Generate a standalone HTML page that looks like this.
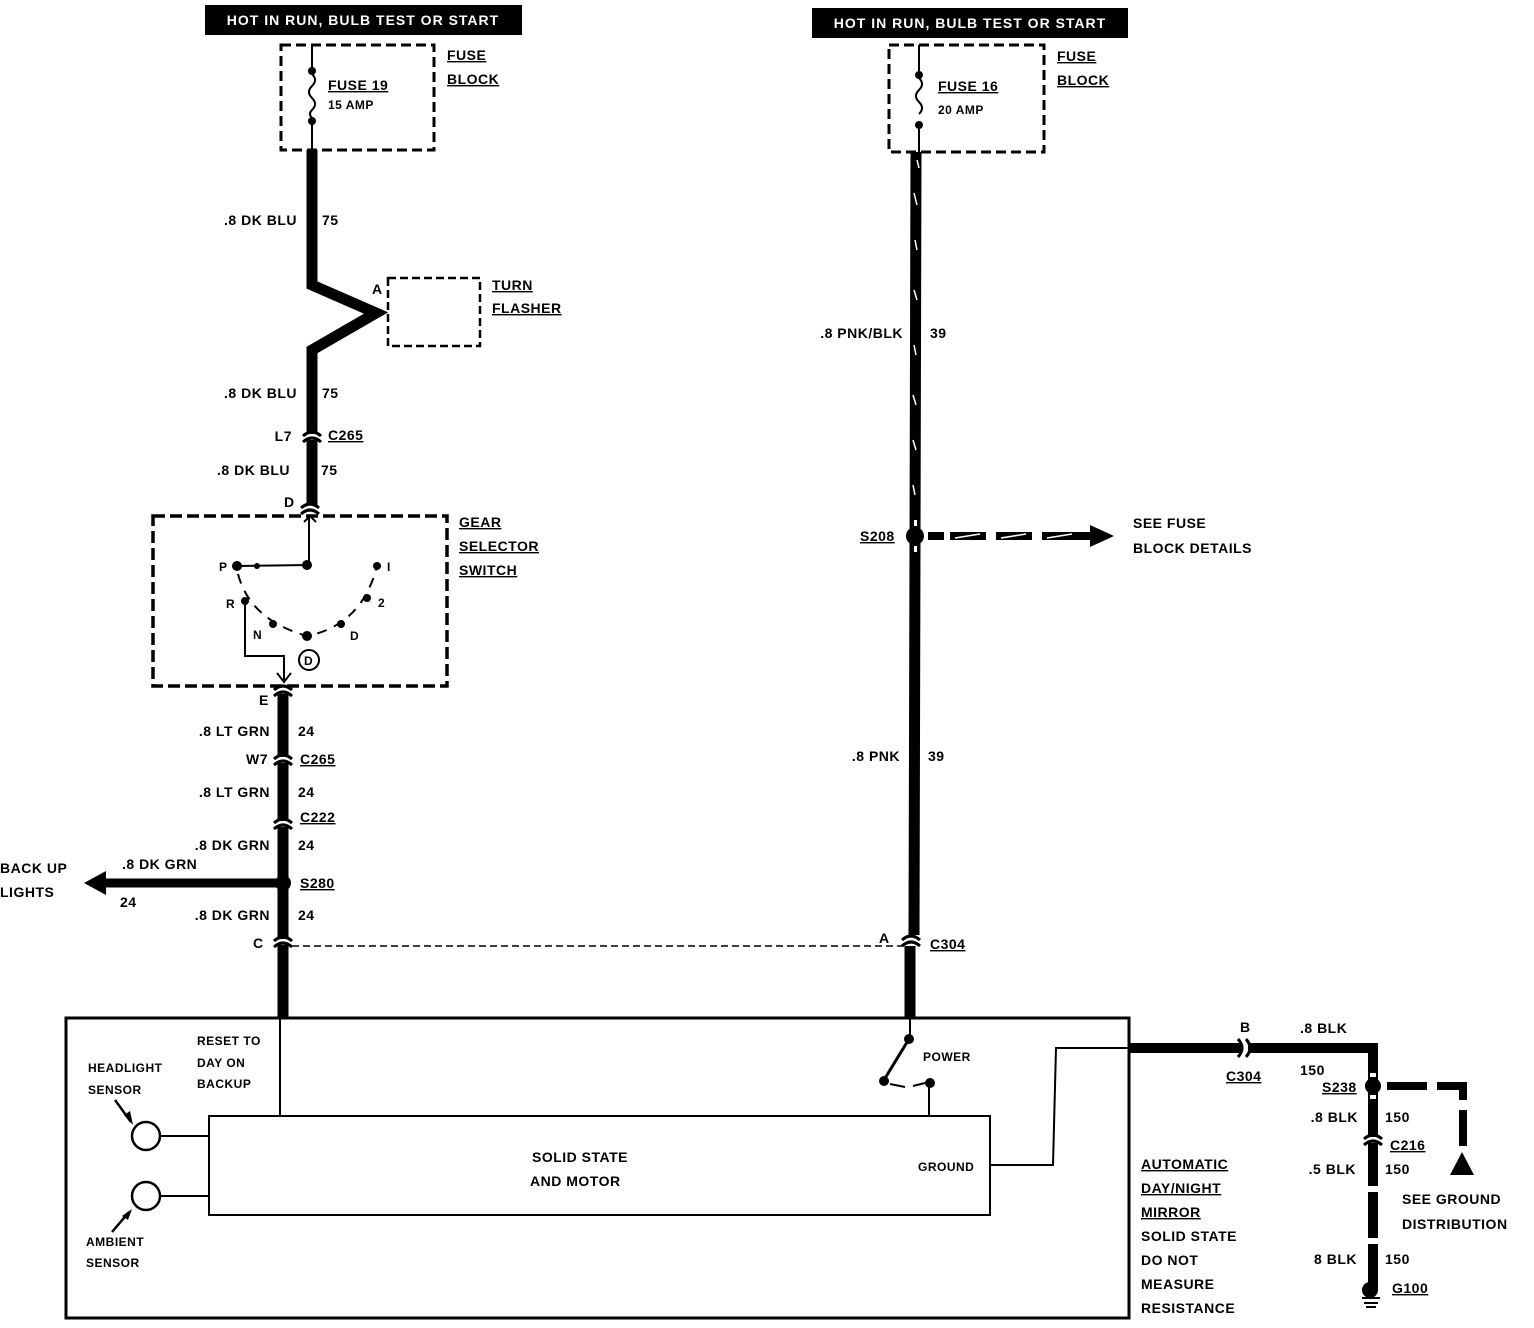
<!DOCTYPE html>
<html><head><meta charset="utf-8"><style>
html,body{margin:0;padding:0;background:#fff}
svg{display:block}
text{font-family:"Liberation Sans",sans-serif;font-weight:bold;font-size:14px;fill:#000;letter-spacing:0.5px}
.s{font-size:12px}
.u{text-decoration:underline}
</style></head><body>
<svg width="1534" height="1328" viewBox="0 0 1534 1328" xmlns="http://www.w3.org/2000/svg">
<defs>
<g id="cv"><rect x="-8" y="-3" width="16" height="6" fill="#fff"/><path d="M-9,-1 Q0,-9 9,-1 M-9,5 Q0,-3 9,5" stroke="#000" stroke-width="3" fill="none"/></g>
</defs>
<!-- header boxes -->
<rect x="205" y="5" width="317" height="30" fill="#000"/>
<text x="363" y="25" text-anchor="middle" style="fill:#fff;letter-spacing:1px" font-size="13">HOT IN RUN, BULB TEST OR START</text>
<rect x="812" y="8" width="316" height="30" fill="#000"/>
<text x="970" y="28" text-anchor="middle" style="fill:#fff;letter-spacing:1px" font-size="13">HOT IN RUN, BULB TEST OR START</text>

<!-- fuse 19 -->
<rect x="281" y="45" width="153" height="105" fill="none" stroke="#000" stroke-width="3" stroke-dasharray="10,5"/>
<line x1="312" y1="45" x2="312" y2="68" stroke="#000" stroke-width="2"/>
<circle cx="312" cy="71" r="4"/>
<path d="M312,74 q6,6 0,12 q-6,6 0,12 q6,6 0,12 q-4,4 0,8" stroke="#000" stroke-width="2" fill="none"/>
<circle cx="312" cy="121" r="4"/>
<line x1="312" y1="121" x2="312" y2="150" stroke="#000" stroke-width="2"/>
<text x="328" y="90" class="u">FUSE 19</text>
<text x="328" y="109" class="s">15 AMP</text>
<text x="447" y="60" class="u">FUSE</text>
<text x="447" y="84" class="u">BLOCK</text>

<!-- left wire -->
<polyline points="312,150 312,285 376,313 312,350 312,505" fill="none" stroke="#000" stroke-width="11" stroke-linejoin="miter"/>
<rect x="388" y="278" width="92" height="68" fill="none" stroke="#000" stroke-width="2.5" stroke-dasharray="8,4"/>
<text x="372" y="294">A</text>
<text x="492" y="290" class="u">TURN</text>
<text x="492" y="313" class="u">FLASHER</text>
<text x="297" y="225" text-anchor="end">.8 DK BLU</text><text x="322" y="225">75</text>
<text x="297" y="398" text-anchor="end">.8 DK BLU</text><text x="322" y="398">75</text>
<use href="#cv" x="312" y="437"/>
<text x="292" y="441" text-anchor="end">L7</text><text x="328" y="440" class="u">C265</text>
<text x="290" y="475" text-anchor="end">.8 DK BLU</text><text x="321" y="475">75</text>
<text x="284" y="507">D</text>
<use href="#cv" x="310" y="509"/>

<!-- gear selector -->
<rect x="153" y="516" width="294" height="170" fill="none" stroke="#000" stroke-width="3.5" stroke-dasharray="12,5"/>
<path d="M304,522 L310,516 L316,522" stroke="#000" stroke-width="2" fill="none"/>
<polyline points="309,518 309,565 237,566" fill="none" stroke="#000" stroke-width="2"/>
<circle cx="307" cy="565" r="5"/><circle cx="237" cy="566" r="5"/><circle cx="257" cy="566" r="3"/>
<path d="M238,574 Q250,620 307,636 Q362,625 377,566" stroke="#000" stroke-width="2" stroke-dasharray="10,8" fill="none"/>
<circle cx="245" cy="601" r="4"/><circle cx="273" cy="624" r="4"/><circle cx="307" cy="636" r="5"/><circle cx="341" cy="624" r="4"/><circle cx="367" cy="598" r="4"/><circle cx="377" cy="566" r="4"/>
<text x="219" y="571" class="s">P</text><text x="387" y="571" class="s">I</text><text x="226" y="608" class="s">R</text><text x="378" y="607" class="s">2</text><text x="253" y="639" class="s">N</text><text x="350" y="640" class="s">D</text>
<polyline points="245,601 245,656 284,656 284,680" fill="none" stroke="#000" stroke-width="2"/>
<path d="M277,673 L284,682 L291,673" fill="none" stroke="#000" stroke-width="2"/>
<circle cx="309" cy="660" r="10" fill="none" stroke="#000" stroke-width="2"/><text x="304" y="665" class="s">D</text>
<text x="459" y="527" class="u">GEAR</text><text x="459" y="551" class="u">SELECTOR</text><text x="459" y="575" class="u">SWITCH</text>

<!-- lower left wire -->
<line x1="283" y1="692" x2="283" y2="1018" stroke="#000" stroke-width="11"/>
<use href="#cv" x="283" y="691"/>
<text x="259" y="705">E</text>
<text x="270" y="736" text-anchor="end">.8 LT GRN</text><text x="298" y="736">24</text>
<use href="#cv" x="283" y="760"/>
<text x="268" y="764" text-anchor="end">W7</text><text x="300" y="764" class="u">C265</text>
<text x="270" y="797" text-anchor="end">.8 LT GRN</text><text x="298" y="797">24</text>
<use href="#cv" x="283" y="824"/>
<text x="300" y="822" class="u">C222</text>
<text x="270" y="850" text-anchor="end">.8 DK GRN</text><text x="298" y="850">24</text>
<circle cx="283" cy="883" r="8"/>
<line x1="100" y1="883" x2="283" y2="883" stroke="#000" stroke-width="9"/>
<polygon points="84,883 106,871 106,895"/>
<text x="300" y="888" class="u">S280</text>
<text x="0" y="873">BACK UP</text><text x="0" y="897">LIGHTS</text>
<text x="122" y="869">.8 DK GRN</text><text x="120" y="907">24</text>
<text x="270" y="920" text-anchor="end">.8 DK GRN</text><text x="298" y="920">24</text>
<use href="#cv" x="283" y="942"/>
<text x="253" y="948">C</text>
<line x1="292" y1="946" x2="904" y2="946" stroke="#000" stroke-width="1.5" stroke-dasharray="7,4"/>

<!-- right wire -->
<rect x="889" y="45" width="155" height="107" fill="none" stroke="#000" stroke-width="3" stroke-dasharray="10,5"/>
<line x1="919" y1="45" x2="919" y2="72" stroke="#000" stroke-width="2"/>
<circle cx="919" cy="75" r="4"/>
<path d="M919,78 q6,6 0,12 q-6,6 0,12 q6,6 0,12" stroke="#000" stroke-width="2" fill="none"/>
<circle cx="919" cy="125" r="4"/>
<line x1="919" y1="125" x2="919" y2="152" stroke="#000" stroke-width="2"/>
<text x="938" y="91" class="u">FUSE 16</text><text x="938" y="114" class="s">20 AMP</text>
<text x="1057" y="61" class="u">FUSE</text><text x="1057" y="85" class="u">BLOCK</text>
<line x1="916" y1="152" x2="914" y2="935" stroke="#000" stroke-width="11"/>
<g stroke="#fff" stroke-width="1.5">
<line x1="917" y1="160" x2="919" y2="168"/><line x1="914" y1="193" x2="917" y2="205"/><line x1="915" y1="240" x2="917" y2="250"/><line x1="914" y1="290" x2="917" y2="300"/><line x1="914" y1="345" x2="916" y2="355"/><line x1="913" y1="395" x2="916" y2="405"/><line x1="913" y1="440" x2="916" y2="450"/><line x1="913" y1="485" x2="915" y2="495"/>
</g>
<circle cx="915" cy="536" r="9"/>
<rect x="914" y="520" width="3" height="6" fill="#fff"/><rect x="914" y="546" width="3" height="6" fill="#fff"/>
<text x="860" y="541" class="u">S208</text>
<g fill="#000"><rect x="928" y="532" width="16" height="8"/><rect x="950" y="532" width="36" height="8"/><rect x="996" y="532" width="36" height="8"/><rect x="1042" y="532" width="50" height="8"/></g>
<g stroke="#fff" stroke-width="1.5"><line x1="955" y1="538" x2="980" y2="534"/><line x1="1001" y1="538" x2="1026" y2="534"/><line x1="1047" y1="538" x2="1072" y2="534"/></g>
<polygon points="1090,525 1114,536 1090,547"/>
<text x="1133" y="528">SEE FUSE</text><text x="1133" y="553">BLOCK DETAILS</text>
<text x="903" y="338" text-anchor="end">.8 PNK/BLK</text><text x="930" y="338">39</text>
<text x="900" y="761" text-anchor="end">.8 PNK</text><text x="928" y="761">39</text>
<use href="#cv" x="911" y="941"/>
<text x="879" y="943">A</text><text x="930" y="949" class="u">C304</text>
<line x1="910" y1="946" x2="910" y2="1018" stroke="#000" stroke-width="11"/>

<!-- mirror box -->
<rect x="66" y="1018" width="1063" height="300" fill="none" stroke="#000" stroke-width="3"/>
<rect x="209" y="1116" width="781" height="99" fill="none" stroke="#000" stroke-width="2"/>
<line x1="280" y1="1018" x2="280" y2="1116" stroke="#000" stroke-width="2"/>
<circle cx="146" cy="1136" r="14" fill="none" stroke="#000" stroke-width="2.5"/>
<circle cx="146" cy="1196" r="14" fill="none" stroke="#000" stroke-width="2.5"/>
<line x1="160" y1="1136" x2="209" y2="1136" stroke="#000" stroke-width="2"/>
<line x1="160" y1="1196" x2="209" y2="1196" stroke="#000" stroke-width="2"/>
<line x1="115" y1="1100" x2="131" y2="1122" stroke="#000" stroke-width="2.5"/><polygon points="133,1125 124,1115 130,1111"/>
<line x1="112" y1="1232" x2="129" y2="1212" stroke="#000" stroke-width="2.5"/><polygon points="132,1209 128,1220 122,1216"/>
<text x="88" y="1072" class="s">HEADLIGHT</text><text x="88" y="1094" class="s">SENSOR</text>
<text x="86" y="1246" class="s">AMBIENT</text><text x="86" y="1267" class="s">SENSOR</text>
<text x="197" y="1045" class="s">RESET TO</text><text x="197" y="1067" class="s">DAY ON</text><text x="197" y="1088" class="s">BACKUP</text>
<text x="532" y="1162">SOLID STATE</text><text x="530" y="1186">AND MOTOR</text>
<line x1="910" y1="1018" x2="910" y2="1037" stroke="#000" stroke-width="2"/>
<circle cx="909" cy="1039" r="5"/>
<line x1="909" y1="1039" x2="884" y2="1080" stroke="#000" stroke-width="3"/>
<circle cx="884" cy="1081" r="5"/>
<path d="M890,1084 L905,1087 M913,1086 L925,1083" stroke="#000" stroke-width="2"/>
<circle cx="930" cy="1083" r="5"/>
<line x1="929" y1="1083" x2="929" y2="1116" stroke="#000" stroke-width="2"/>
<text x="923" y="1061" class="s">POWER</text>
<text x="918" y="1171" class="s">GROUND</text>
<polyline points="990,1165 1053,1165 1056,1048 1129,1048" fill="none" stroke="#000" stroke-width="2"/>
<text x="1141" y="1169" class="u">AUTOMATIC</text>
<text x="1141" y="1193" class="u">DAY/NIGHT</text>
<text x="1141" y="1217" class="u">MIRROR</text>
<text x="1141" y="1241">SOLID STATE</text>
<text x="1141" y="1265">DO NOT</text>
<text x="1141" y="1289">MEASURE</text>
<text x="1141" y="1313">RESISTANCE</text>

<!-- ground side -->
<polyline points="1129,1048 1373,1048 1373,1290" fill="none" stroke="#000" stroke-width="10"/>
<rect x="1242" y="1040" width="6" height="16" fill="#fff"/>
<path d="M1238,1039 Q1246,1048 1238,1057 M1246,1039 Q1254,1048 1246,1057" stroke="#000" stroke-width="3" fill="none"/>
<text x="1240" y="1032">B</text><text x="1300" y="1033">.8 BLK</text>
<text x="1226" y="1081" class="u">C304</text><text x="1300" y="1075">150</text>
<circle cx="1373" cy="1086" r="8"/>
<rect x="1370" y="1073" width="6" height="4" fill="#fff"/><rect x="1370" y="1095" width="6" height="4" fill="#fff"/>
<text x="1322" y="1092" class="u">S238</text>
<g fill="#000"><rect x="1387" y="1082" width="40" height="8"/><rect x="1437" y="1082" width="30" height="8"/><rect x="1459" y="1082" width="8" height="18"/><rect x="1459" y="1110" width="8" height="36"/></g>
<polygon points="1450,1175 1462,1152 1474,1175"/>
<text x="1358" y="1122" text-anchor="end">.8 BLK</text><text x="1385" y="1122">150</text>
<use href="#cv" x="1373" y="1140"/>
<text x="1390" y="1150" class="u">C216</text>
<text x="1356" y="1174" text-anchor="end">.5 BLK</text><text x="1385" y="1174">150</text>
<rect x="1368" y="1186" width="10" height="6" fill="#fff"/>
<rect x="1368" y="1238" width="10" height="6" fill="#fff"/>
<text x="1402" y="1204">SEE GROUND</text><text x="1402" y="1229">DISTRIBUTION</text>
<text x="1357" y="1264" text-anchor="end">8 BLK</text><text x="1385" y="1264">150</text>
<circle cx="1370" cy="1290" r="8"/>
<line x1="1362" y1="1298" x2="1380" y2="1298" stroke="#000" stroke-width="2"/>
<line x1="1364" y1="1303" x2="1378" y2="1303" stroke="#000" stroke-width="2"/>
<line x1="1366" y1="1307" x2="1376" y2="1307" stroke="#000" stroke-width="2"/>
<text x="1392" y="1293" class="u">G100</text>
</svg>
</body></html>
